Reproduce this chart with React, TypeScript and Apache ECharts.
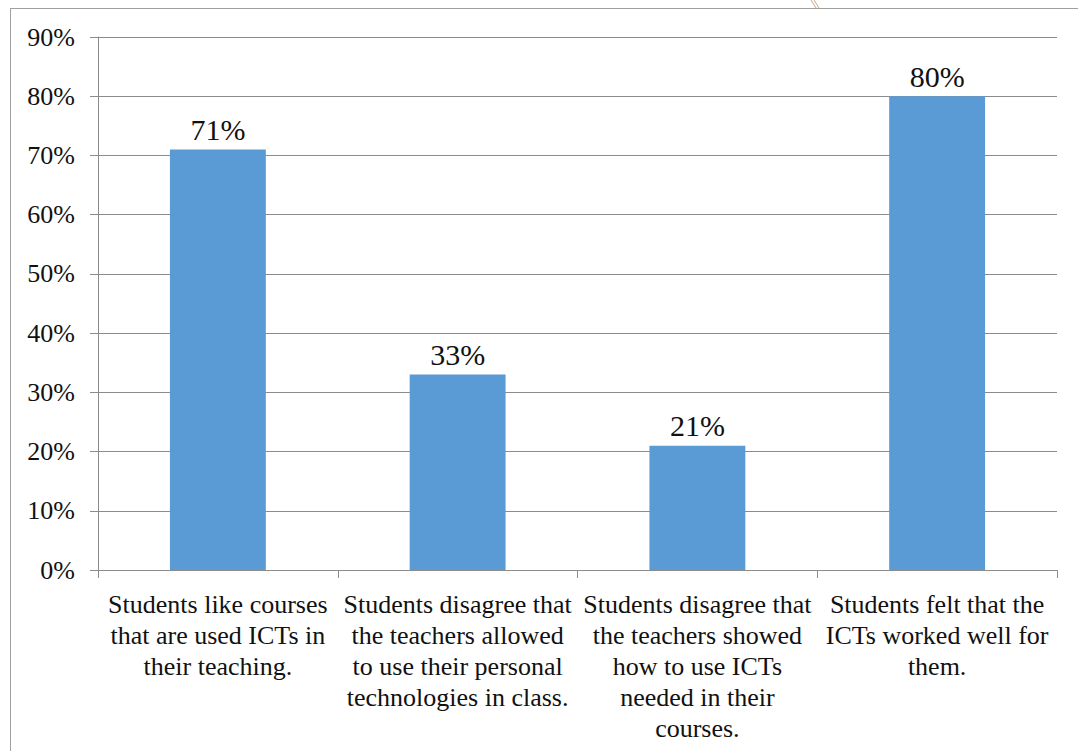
import React, { useEffect, useRef } from "react";
import * as echarts from "echarts";

const categories = [
  "Students like courses\nthat are used ICTs in\ntheir teaching.",
  "Students disagree that\nthe teachers allowed\nto use their personal\ntechnologies in class.",
  "Students disagree that\nthe teachers showed\nhow to use ICTs\nneeded in their\ncourses.",
  "Students felt that the\nICTs worked well for\nthem.",
];
const values = [71, 33, 21, 80];
const yMax = 90;
const yInterval = 10;

const FONT = "Times New Roman, Liberation Serif, DejaVu Serif, serif";
const GRAY = "#8c8c8c";

export default function App() {
  const ref = useRef<HTMLDivElement>(null);
  useEffect(() => {
    if (!ref.current) return;
    const chart = echarts.init(ref.current, undefined, { renderer: "svg" });
    chart.setOption({
      animation: false,
      backgroundColor: "#fff",
      textStyle: { fontFamily: FONT },
      grid: { left: 98, right: 21, top: 37, bottom: 181, containLabel: false },
      xAxis: {
        type: "category",
        data: categories,
        axisLine: { show: true, lineStyle: { color: GRAY, width: 1 } },
        axisTick: { show: true, length: 8, lineStyle: { color: GRAY } },
        axisLabel: {
          interval: 0,
          margin: 19,
          fontFamily: FONT,
          fontSize: 26,
          lineHeight: 31,
          color: "#111",
          align: "center",
        },
      },
      yAxis: {
        type: "value",
        min: 0,
        max: yMax,
        interval: yInterval,
        axisLine: { show: true, lineStyle: { color: GRAY, width: 1 } },
        axisTick: { show: true, length: 8, lineStyle: { color: GRAY } },
        splitLine: { show: true, lineStyle: { color: GRAY, width: 1 } },
        axisLabel: {
          formatter: "{value}%",
          margin: 23,
          fontFamily: FONT,
          fontSize: 26,
          color: "#111",
        },
      },
      series: [
        {
          type: "bar",
          data: values,
          barCategoryGap: "60%",
          itemStyle: { color: "#5B9BD5" },
          label: {
            show: true,
            position: "top",
            distance: 5,
            formatter: "{c}%",
            fontFamily: FONT,
            fontSize: 30,
            color: "#111",
          },
        },
      ],
      graphic: [
        {
          type: "line",
          shape: { x1: 10, y1: 8.5, x2: 1078, y2: 8.5 },
          style: { stroke: "#a0a0a0", lineWidth: 1 },
          silent: true,
        },
        {
          type: "line",
          shape: { x1: 10.5, y1: 8.5, x2: 10.5, y2: 751 },
          style: { stroke: "#a0a0a0", lineWidth: 1 },
          silent: true,
        },
        {
          type: "line",
          shape: { x1: 811, y1: 0, x2: 816, y2: 8 },
          style: { stroke: "#c8a98a", lineWidth: 1 },
          silent: true,
        },
        {
          type: "line",
          shape: { x1: 814, y1: 0, x2: 819, y2: 8 },
          style: { stroke: "#c8a98a", lineWidth: 1 },
          silent: true,
        },
      ],
    });
    return () => chart.dispose();
  }, []);
  return (
    <div
      ref={ref}
      style={{ position: "fixed", left: 0, top: 0, width: 1078, height: 751, background: "#fff" }}
    />
  );
}
